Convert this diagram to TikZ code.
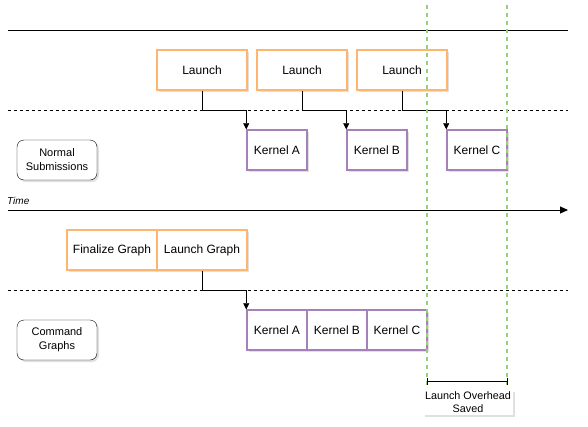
\documentclass[tikz,border=0pt]{standalone}
\usepackage{fontspec}
\setmainfont{Liberation Sans}
\usetikzlibrary{arrows.meta,shadows}
\definecolor{launchorange}{HTML}{FFB570}
\definecolor{kernelpurple}{HTML}{A680B8}
\definecolor{savedgreen}{HTML}{97D077}
\begin{document}
\begin{tikzpicture}[x=1pt,y=-1pt,
	boxshadow/.style={drop shadow={shadow xshift=2pt,shadow yshift=-2pt,fill=gray!60,opacity=.4}},
	launchbox/.style={draw=launchorange,line width=1.5pt,fill=white,boxshadow,minimum width=90pt,minimum height=40pt,inner sep=0pt,font=\fontsize{12}{14}\selectfont},
	kernelbox/.style={draw=kernelpurple,line width=1.5pt,fill=white,boxshadow,minimum width=60pt,minimum height=40pt,inner sep=0pt,font=\fontsize{12}{14}\selectfont},
	rowlabel/.style={draw,rounded corners=7pt,fill=white,boxshadow,minimum width=80pt,minimum height=40pt,inner sep=0pt,align=center,font=\fontsize{11}{14}\selectfont},
	savedline/.style={draw=savedgreen,line width=1.5pt,dash pattern=on 4pt off 4pt}]
	\useasboundingbox (0,0) rectangle (588,426);
	
	\draw [line width=1pt] (8,30) to (568,30) ;
	\draw [dashed] (8,110) to (568,110) ;
	\draw [dashed] (8,290) to (568,290) ;
	\draw [line width=1pt,-{Triangle[length=8pt,width=7pt]}] (8,210) to (568,210) ;
	\node [font=\fontsize{10}{12}\selectfont\itshape,anchor=west,inner sep=0pt] (time) at (7,201) {Time} ;
	
	% normal submissions
	\node [launchbox] (la1) at (202,70) {Launch} ;
	\node [launchbox] (la2) at (302,70) {Launch} ;
	\node [launchbox] (la3) at (402,70) {Launch} ;
	\node [kernelbox] (ka1) at (277,150) {Kernel A} ;
	\node [kernelbox] (kb1) at (377,150) {Kernel B} ;
	\node [kernelbox] (kc1) at (477,150) {Kernel C} ;
	\node [rowlabel] (normal) at (57,160) {Normal\\Submissions} ;
	
	\draw [-{Triangle[length=6pt,width=6pt]}] (la1.south) |- (0,110 -| ka1.north west) to (ka1.north west) ;
	\draw [-{Triangle[length=6pt,width=6pt]}] (la2.south) |- (0,110 -| kb1.north west) to (kb1.north west) ;
	\draw [-{Triangle[length=6pt,width=6pt]}] (la3.south) |- (0,110 -| kc1.north west) to (kc1.north west) ;
	
	% command graphs
	\node [launchbox] (fin) at (112,250) {Finalize Graph} ;
	\node [launchbox] (lg) at (202,250) {Launch Graph} ;
	\node [kernelbox] (ka2) at (277,330) {Kernel A} ;
	\node [kernelbox] (kb2) at (337,330) {Kernel B} ;
	\node [kernelbox] (kc2) at (397,330) {Kernel C} ;
	\node [rowlabel] (graphs) at (57,340) {Command\\Graphs} ;
	
	\draw [-{Triangle[length=6pt,width=6pt]}] (lg.south) |- (0,290 -| ka2.north west) to (ka2.north west) ;
	
	% saved overhead
	\draw [savedline] (427,5) to (427,385) ;
	\draw [savedline] (507,5) to (507,385) ;
	\coordinate (savedleft) at (427,381) ;
	\coordinate (savedright) at (507,381) ;
	\draw [{Bar[width=7pt]}-{Bar[width=7pt]}] (savedleft) to (savedright) ;
	\node [fill=white,boxshadow,minimum width=90pt,minimum height=25pt,inner sep=0pt,align=center,font=\fontsize{10.8}{13}\selectfont] (saved) at (468,402) {Launch Overhead\\Saved} ;
\end{tikzpicture}
\end{document}
